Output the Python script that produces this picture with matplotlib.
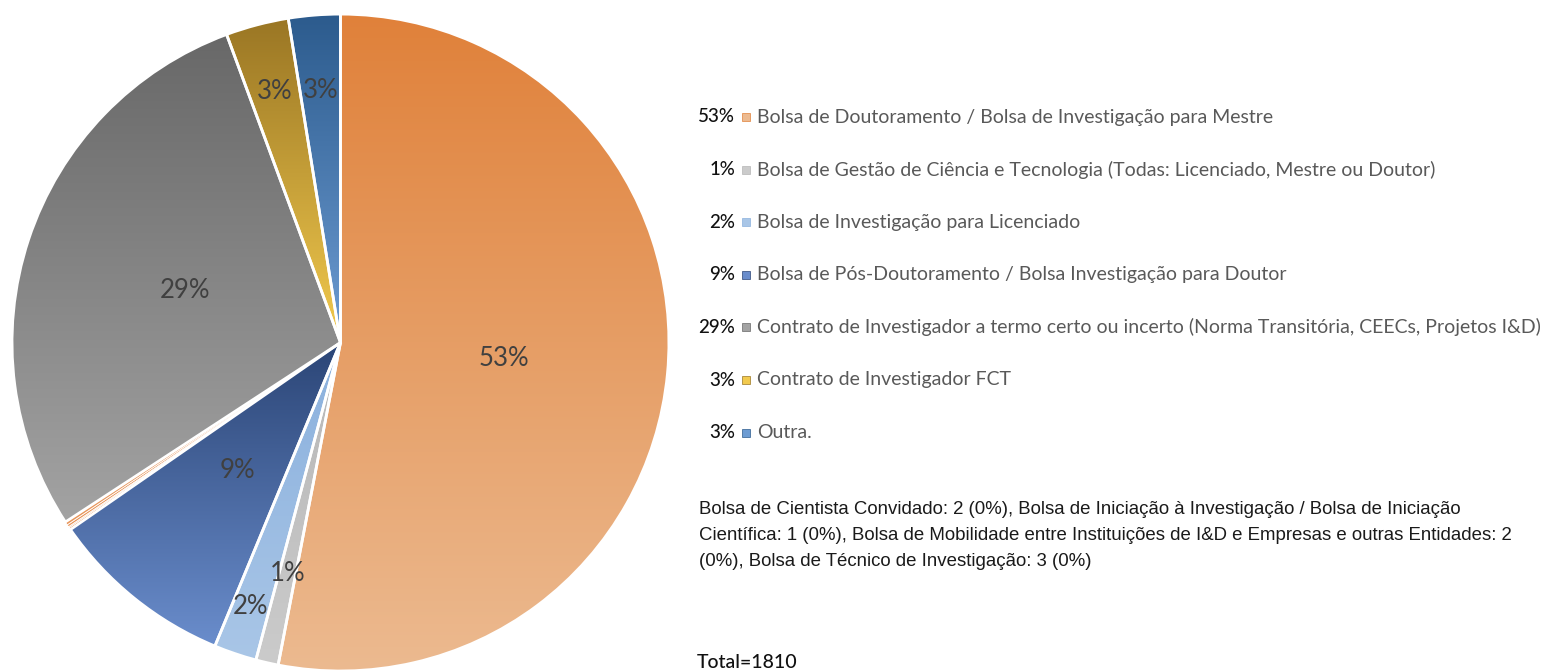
import textwrap
import numpy as np
import matplotlib.pyplot as plt
from matplotlib.colors import LinearSegmentedColormap
from matplotlib.patches import Rectangle

# main categories (legend order)
categories = [
    'Bolsa de Doutoramento / Bolsa de Investigação para Mestre',
    'Bolsa de Gestão de Ciência e Tecnologia (Todas: Licenciado, Mestre ou Doutor)',
    'Bolsa de Investigação para Licenciado',
    'Bolsa de Pós-Doutoramento / Bolsa Investigação para Doutor',
    'Contrato de Investigador a termo certo ou incerto (Norma Transitória, CEECs, Projetos I&D)',
    'Contrato de Investigador FCT',
    'Outra.',
]
counts = [960, 20, 38, 165, 517, 56, 46]

# tiny categories listed in the note
small_categories = [
    'Bolsa de Cientista Convidado',
    'Bolsa de Iniciação à Investigação / Bolsa de Iniciação Científica',
    'Bolsa de Mobilidade entre Instituições de I&D e Empresas e outras Entidades',
    'Bolsa de Técnico de Investigação',
]
small_counts = [2, 1, 2, 3]

# gradient colours (top, bottom) for each main slice
grad_colors = [
    ('#E0813A', '#ECBA90'),
    ('#B6B6B6', '#CBCBCB'),
    ('#8AB0DD', '#A9C6E7'),
    ('#2B4576', '#6A8DCC'),
    ('#686868', '#A3A3A3'),
    ('#9A7624', '#F2CA4E'),
    ('#2C5B8D', '#6D9CD3'),
]
small_color = '#E8955A'
label_radius = [0.5, 0.72, 0.85, 0.5, 0.5, 0.79, 0.77]

total = sum(counts) + sum(small_counts)

# pie order: first four main, the tiny ones, then the contracts and "Outra"
values = counts[:4] + small_counts + counts[4:]
is_main = [True] * 4 + [False] * len(small_counts) + [True] * 3

fig = plt.figure(figsize=(15.49, 6.71), dpi=100)
ax = fig.add_axes([0.00775, 0.0, 0.4241, 0.979])

wedges, _ = ax.pie(values, startangle=90, counterclock=False, radius=1,
                   wedgeprops=dict(edgecolor='white', linewidth=2))

grad = np.linspace(0, 1, 256).reshape(-1, 1)
mi = 0
for w, main in zip(wedges, is_main):
    if not main:
        w.set_facecolor(small_color)
        w.set_linewidth(0.6)
        continue
    top, bot = grad_colors[mi]
    w.set_facecolor('none')
    w.set_zorder(3)
    bb = w.get_path().get_extents()
    cmap = LinearSegmentedColormap.from_list('g%d' % mi, [top, bot])
    im = ax.imshow(grad, extent=[bb.x0, bb.x1, bb.y0, bb.y1], origin='upper',
                   cmap=cmap, aspect='auto', zorder=2)
    im.set_clip_path(w)
    # percentage label inside the slice
    ang = np.deg2rad((w.theta1 + w.theta2) / 2)
    r = label_radius[mi]
    pct = round(100 * counts[mi] / total)
    ax.text(r * np.cos(ang), r * np.sin(ang), f'{pct}%', ha='center', va='center',
            fontsize=18.5, color='#404040', family='Lato', zorder=5)
    mi += 1

ax.set_xlim(-1, 1)
ax.set_ylim(-1, 1)
ax.set_aspect('equal')
ax.axis('off')

# legend
W, H = 1549, 671
y0, dy = 117, 52.6
for i, (name, c) in enumerate(zip(categories, counts)):
    y = 1 - (y0 + i * dy) / H
    pct = round(100 * c / total)
    fig.text(735 / W, y, f'{pct}%', ha='right', va='center', fontsize=13.5,
             color='#111111', family='Lato', weight='medium')
    fig.patches.append(Rectangle((742 / W, y - 4 / H), 8 / W, 8 / H,
                                 transform=fig.transFigure,
                                 color=grad_colors[i][1], ec=grad_colors[i][0], lw=0.5))
    fig.text(757 / W, y, name, ha='left', va='center', fontsize=14,
             color='#595959', family='Lato')

# note about the tiny categories
note = ', '.join(f'{n}: {c} ({round(100 * c / total)}%)'
                 for n, c in zip(small_categories, small_counts))
lines = textwrap.wrap(note, width=100)
for i, line in enumerate(lines):
    fig.text(699 / W, 1 - (509 + i * 26) / H, line, ha='left', va='center',
             fontsize=13.4, color='#1a1a1a', family='Liberation Sans')

fig.text(697 / W, 1 - 662 / H, f'Total={total}', ha='left', va='center',
         fontsize=14, color='#111111', family='Lato', weight='medium')

fig.savefig('out.png', dpi=100)
